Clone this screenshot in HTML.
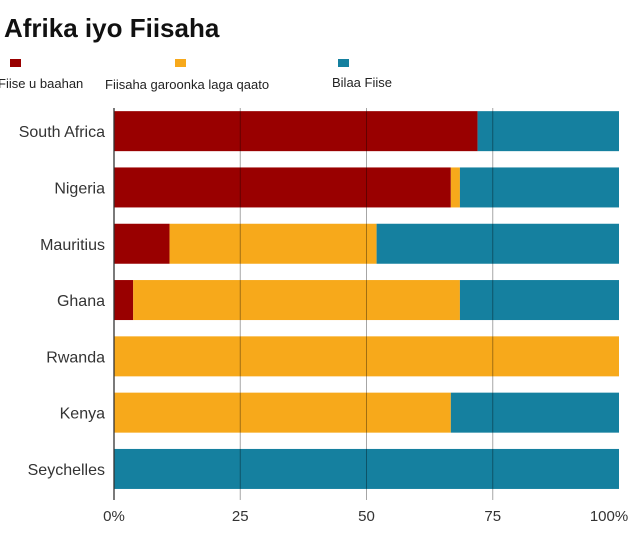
<!DOCTYPE html>
<html><head><meta charset="utf-8"><style>
body{margin:0;background:#fff;width:640px;height:530px;overflow:hidden;font-family:"Liberation Sans",sans-serif}
</style></head><body>
<svg width="640" height="530">
<text x="4" y="37" font-size="26" font-weight="bold" fill="#111">Afrika iyo Fiisaha</text>
<g id="legend"></g>
<g id="plot"></g>
</svg>
<script>
const categories=["South Africa","Nigeria","Mauritius","Ghana","Rwanda","Kenya","Seychelles"];
const visaRequired=[72,66.7,11,3.8,0,0,0];
const visaOnArrival=[0,1.8,41,64.7,100,66.7,0];
const noVisa=[28,31.5,48,31.5,0,33.3,100];
const tickValues=[0,25,50,75,100];
const tickLabels=["0%","25","50","75","100%"];
const seriesNames=["Fiise u baahan","Fiisaha garoonka laga qaato","Bilaa Fiise"];
const colors=["#990000","#f7a91b","#15809f"];
const ns="http://www.w3.org/2000/svg";
const x0=114,x1=619,yTop=103,pitch=56.3,barH=40;
const xs=v=>x0+(x1-x0)*v/100;
function mk(t,a,p){const e=document.createElementNS(ns,t);for(const k in a)e.setAttribute(k,a[k]);p.appendChild(e);return e;}
const plot=document.getElementById('plot'),leg=document.getElementById('legend');
const lx=[10,175,338],ltx=[-2,105,332],lty=[88,89,87];
seriesNames.forEach((n,i)=>{
 const r=mk('rect',{x:lx[i],y:59,width:11,height:8,fill:colors[i]},leg);
 
 
 const t=mk('text',{x:ltx[i],y:lty[i],'font-size':13,fill:'#222'},leg);t.textContent=n;
 
 
});
const series=[visaRequired,visaOnArrival,noVisa];
categories.forEach((c,i)=>{
 const cy=yTop+pitch*i+pitch/2;
 let acc=0;
 series.forEach((s,j)=>{
  if(s[i]>0){const r=mk('rect',{x:xs(acc),y:cy-barH/2,width:xs(acc+s[i])-xs(acc),height:barH,fill:colors[j]},plot);
  
  }
  acc+=s[i];
 });
 const t=mk('text',{x:105,y:cy+6,'text-anchor':'end','font-size':16,fill:'#333'},plot);t.textContent=c;
 
 
});
tickValues.forEach((v,i)=>{
 if(v>0&&v<100){const l=mk('line',{x1:xs(v),x2:xs(v),y1:108,y2:500,stroke:'#000','stroke-opacity':0.35,'stroke-width':1},plot);
 
 }
 const t=mk('text',{x:xs(v)+(v==100?-10:0),y:521,'text-anchor':'middle','font-size':15,fill:'#333'},plot);t.textContent=tickLabels[i];
 
 
});
const ax=mk('line',{x1:x0,x2:x0,y1:108,y2:500,stroke:'#333','stroke-width':1.3},plot);


</script>
</body></html>
